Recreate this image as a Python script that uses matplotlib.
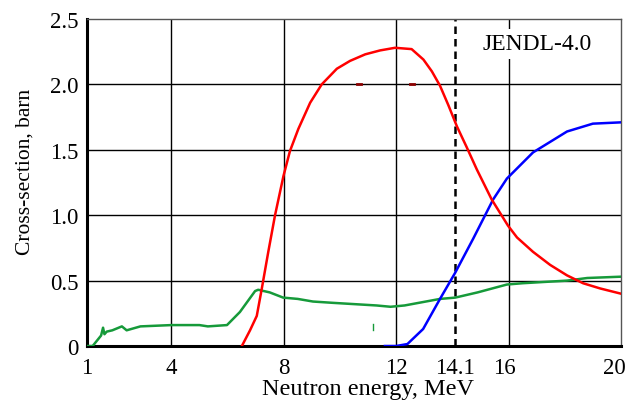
import matplotlib
matplotlib.use('Agg')
import matplotlib.pyplot as plt
from matplotlib.transforms import ScaledTranslation

plt.rcParams['font.family'] = ['Liberation Serif', 'DejaVu Serif']

# red curve
red_x = [6.51, 6.8, 7.04, 7.22, 7.45, 7.69, 7.99, 8.22, 8.52, 8.94, 9.35, 9.89, 10.36, 10.9, 11.43, 11.96, 12.55, 12.97, 13.27, 13.56, 13.86, 14.16, 14.51, 14.87, 15.4, 15.98, 16.3, 16.87, 17.48, 18.08, 18.65, 19.26, 20.0]
red_y = [0.0, 0.12, 0.23, 0.44, 0.72, 1.0, 1.30, 1.49, 1.66, 1.86, 2.0, 2.12, 2.18, 2.23, 2.26, 2.28, 2.27, 2.19, 2.10, 1.99, 1.84, 1.68, 1.52, 1.35, 1.12, 0.92, 0.83, 0.72, 0.62, 0.54, 0.48, 0.44, 0.40]

# blue curve
blue_x = [11.6, 12.0, 12.4, 12.96, 13.56, 14.1, 14.74, 15.45, 15.94, 16.87, 18.08, 19.0, 20.0]
blue_y = [0.0, 0.0, 0.015, 0.13, 0.36, 0.56, 0.82, 1.12, 1.28, 1.48, 1.64, 1.70, 1.71]

# green curve
green_x = [1.0, 1.2, 1.5, 1.57, 1.62, 1.7, 1.9, 2.24, 2.41, 2.9, 4.0, 5.0, 5.3, 5.98, 6.44, 6.98, 7.09, 7.5, 7.98, 8.5, 9.04, 9.75, 11.3, 11.8, 12.3, 13.56, 14.1, 14.9, 15.94, 16.5, 18.08, 18.8, 20.0]
green_y = [0.0, 0.0, 0.08, 0.14, 0.09, 0.11, 0.12, 0.15, 0.12, 0.15, 0.16, 0.16, 0.15, 0.16, 0.26, 0.42, 0.43, 0.41, 0.37, 0.36, 0.34, 0.33, 0.31, 0.30, 0.31, 0.36, 0.37, 0.41, 0.47, 0.48, 0.50, 0.52, 0.53]

xticks = [1, 4, 8, 12, 14.1, 16, 20]
xtick_labels = ['1', '4', '8', '12', '14.1', '16', '20']
yticks = [0, 0.5, 1.0, 1.5, 2.0, 2.5]
ytick_labels = ['0', '0.5', '1.0', '1.5', '2.0', '2.5']

fig = plt.figure(figsize=(6.27, 4.06), dpi=100)
ax = fig.add_axes([0.1388, 0.1453, 0.8516, 0.8054])

# grid
for gx in [4, 8, 12, 16]:
    ax.axvline(gx, color='black', lw=1.0, zorder=1)
for gy in [0.5, 1.0, 1.5, 2.0]:
    ax.axhline(gy, color='black', lw=1.0, zorder=1)
ax.axvline(14.1, color='black', lw=1.8, ls=(0, (3, 2)), zorder=2)

ax.plot(green_x, green_y, color='#169a3a', lw=1.8, zorder=3)
ax.plot(blue_x, blue_y, color='#0000ff', lw=1.8, zorder=3)
ax.plot(red_x, red_y, color='#ff0000', lw=1.8, zorder=3)

# small stray marks seen on the original
ax.plot([11.18, 11.18], [0.12, 0.17], color='#169a3a', lw=1.0)
ax.plot([10.62, 10.74], [2.0, 2.0], color='#8b0000', lw=2.0, zorder=3)
ax.plot([12.51, 12.63], [2.0, 2.0], color='#8b0000', lw=2.0, zorder=3)

ax.text(17.0, 2.31, 'JENDL-4.0', fontsize=17, ha='center', va='center',
        bbox=dict(facecolor='white', edgecolor='none', pad=3), zorder=4)

ax.set_xlim(1, 20)
ax.set_ylim(0, 2.5)
ax.set_xticks(xticks)
ax.set_xticklabels(xtick_labels)
ax.set_yticks(yticks)
ax.set_yticklabels(ytick_labels)
ax.tick_params(length=0, labelsize=16.5)
ax.tick_params(axis='x', pad=8)
ax.tick_params(axis='y', pad=6)

# last x labels sit a bit left of their ticks in the original
shifts = {'16': -4, '20': -7}
for lab in ax.get_xticklabels():
    dx = shifts.get(lab.get_text(), 0)
    if dx:
        lab.set_transform(lab.get_transform() + ScaledTranslation(dx / 100, 0, fig.dpi_scale_trans))

for s in ['left', 'bottom']:
    ax.spines[s].set_linewidth(2.2)
    ax.spines[s].set_color('black')
for s in ['top', 'right']:
    ax.spines[s].set_linewidth(1.0)
    ax.spines[s].set_color('#555555')

ax.set_xlabel('Neutron energy, MeV', fontsize=17.5)
ax.xaxis.set_label_coords(0.526, -0.098)
ax.set_ylabel('Cross-section, barn', fontsize=15.5)
ax.yaxis.set_label_coords(-0.098, 0.535)

fig.savefig('out.png', dpi=100)
